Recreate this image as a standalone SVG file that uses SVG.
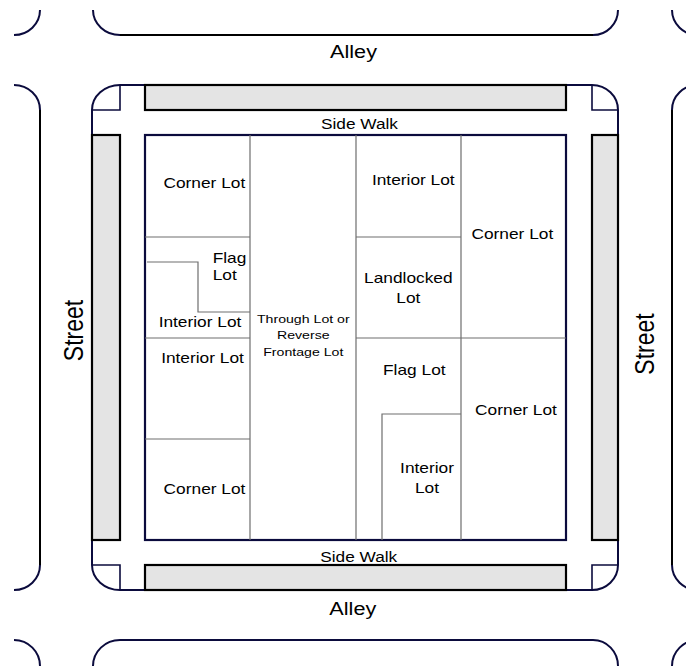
<svg xmlns="http://www.w3.org/2000/svg" width="686" height="666" viewBox="0 0 686 666">
<style>
.curb{fill:none;stroke:#0b0b3d;stroke-width:2}
.edge{fill:none;stroke:#000;stroke-width:2}
.strip{fill:#e4e4e4;stroke:#000;stroke-width:2.2}
.block{fill:#fff;stroke:#0b0b3d;stroke-width:2.2}
.lot{fill:none;stroke:#6e6e6e;stroke-width:1.2}
.t{font-family:"Liberation Sans",Arial,sans-serif;fill:#000}
.lbl{font-size:14.2px;text-anchor:middle}
.lbs{font-size:14.2px;text-anchor:start}
.sm{font-size:11.6px;text-anchor:middle}
.sw{font-size:15px;text-anchor:middle}
.al{font-size:18.5px;text-anchor:middle}
.st{font-size:23px;text-anchor:middle}
</style>
<rect width="686" height="666" fill="#fff"/>
<g id="surrounding-blocks">
  <path class="curb" d="M40,10 A26,25 0 0 1 14,35"/>
  <path class="curb" d="M93,10 A27,25 0 0 0 120,35"/>
  <path class="edge" d="M120,35 L593,35"/>
  <path class="curb" d="M593,35 A25,25 0 0 0 618,10"/>
  <path class="curb" d="M672,10 A26,25 0 0 0 698,35"/>
  <path class="curb" d="M14,85 A26,25 0 0 1 40,110"/>
  <path class="edge" d="M40,110 L40,565"/>
  <path class="curb" d="M40,565 A26,25 0 0 1 14,590"/>
  <path class="curb" d="M698,85 A26,25 0 0 0 672,110"/>
  <path class="edge" d="M672,110 L672,565"/>
  <path class="curb" d="M672,565 A26,25 0 0 0 698,590"/>
  <path class="curb" d="M14,640 A26,26 0 0 1 40,666"/>
  <path class="curb" d="M93,666 A27,26 0 0 1 120,640 L593,640 A25,26 0 0 1 618,666"/>
  <path class="curb" d="M698,640 A26,26 0 0 0 672,666"/>
</g>
<g id="main-block">
  <path class="curb" d="M120,85 L592,85 A26,25 0 0 1 618,110 L618,565 A26,25 0 0 1 592,590 L120,590 A28,25 0 0 1 92,565 L92,110 A28,25 0 0 1 120,85 Z"/>
  <path class="curb" style="stroke-width:1.6" d="M120,85 L120,110 L92,110 M592,85 L592,110 L618,110 M92,565 L120,565 L120,590 M618,565 L592,565 L592,590"/>
</g>
<g id="planting-strips">
  <rect class="strip" x="145" y="85" width="421" height="25"/>
  <rect class="strip" x="145" y="565" width="421" height="25"/>
  <rect class="strip" x="92" y="135" width="28" height="405"/>
  <rect class="strip" x="592" y="135" width="26" height="405"/>
</g>
<g id="lots">
  <rect class="block" x="145" y="135" width="421" height="405"/>
  <g id="lot-lines">
    <path class="lot" d="M250,135 L250,540 M356,135 L356,540 M461,135 L461,540"/>
    <path class="lot" d="M145,237 L250,237 M145,338 L250,338 M145,439 L250,439"/>
    <path class="lot" d="M147,262 L198,262 L198,312 L250,312"/>
    <path class="lot" d="M356,237 L461,237 M356,338 L566,338"/>
    <path class="lot" d="M382,540 L382,414 L461,414"/>
  </g>
  <g id="lot-corner-nw"><text class="t lbl" transform="matrix(1.22 0 0 1 204.3 0)" x="0" y="187.7">Corner Lot</text></g>
  <g id="lot-flag-w"><text class="t lbs" transform="matrix(1.22 0 0 1 212.7 0)" x="0" y="263.3">Flag</text><text class="t lbs" transform="matrix(1.22 0 0 1 212.7 0)" x="0" y="280">Lot</text></g>
  <g id="lot-interior-w1"><text class="t lbl" transform="matrix(1.22 0 0 1 200 0)" x="0" y="327.3">Interior Lot</text></g>
  <g id="lot-interior-w2"><text class="t lbl" transform="matrix(1.22 0 0 1 202.5 0)" x="0" y="363.5">Interior Lot</text></g>
  <g id="lot-corner-sw"><text class="t lbl" transform="matrix(1.22 0 0 1 204.5 0)" x="0" y="494">Corner Lot</text></g>
  <g id="lot-through"><text class="t sm" transform="matrix(1.22 0 0 1 303.3 0)" x="0" y="322.7">Through Lot or</text><text class="t sm" transform="matrix(1.22 0 0 1 303.3 0)" x="0" y="339.3">Reverse</text><text class="t sm" transform="matrix(1.22 0 0 1 303.3 0)" x="0" y="356">Frontage Lot</text></g>
  <g id="lot-interior-ne"><text class="t lbl" transform="matrix(1.22 0 0 1 413.3 0)" x="0" y="185">Interior Lot</text></g>
  <g id="lot-landlocked"><text class="t lbl" transform="matrix(1.22 0 0 1 408.3 0)" x="0" y="283.3">Landlocked</text><text class="t lbl" transform="matrix(1.22 0 0 1 408.3 0)" x="0" y="302.7">Lot</text></g>
  <g id="lot-corner-ne"><text class="t lbl" transform="matrix(1.22 0 0 1 512.3 0)" x="0" y="239.3">Corner Lot</text></g>
  <g id="lot-flag-e"><text class="t lbl" transform="matrix(1.22 0 0 1 414.3 0)" x="0" y="375">Flag Lot</text></g>
  <g id="lot-corner-se"><text class="t lbl" transform="matrix(1.22 0 0 1 516 0)" x="0" y="415">Corner Lot</text></g>
  <g id="lot-interior-se"><text class="t lbl" transform="matrix(1.22 0 0 1 427 0)" x="0" y="473.3">Interior</text><text class="t lbl" transform="matrix(1.22 0 0 1 427 0)" x="0" y="492.7">Lot</text></g>
</g>
<g id="labels">
  <text class="t sw" transform="matrix(1.15 0 0 1 359.5 0)" x="0" y="129">Side Walk</text>
  <text class="t sw" transform="matrix(1.15 0 0 1 358.7 0)" x="0" y="561.7">Side Walk</text>
  <text class="t al" transform="matrix(1.17 0 0 1 353.5 0)" x="0" y="58.3">Alley</text>
  <text class="t al" transform="matrix(1.17 0 0 1 352.8 0)" x="0" y="615">Alley</text>
  <text class="t st" transform="translate(82.5 330.5) scale(1.17 1) rotate(-90)" x="0" y="0">Street</text>
  <text class="t st" transform="translate(654 344) scale(1.17 1) rotate(-90)" x="0" y="0">Street</text>
</g>
</svg>
